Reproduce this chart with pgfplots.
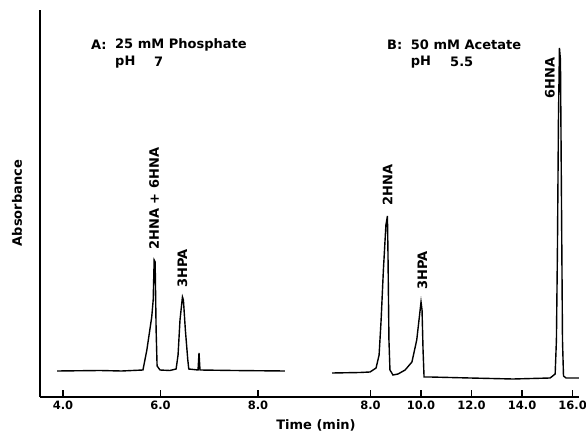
\documentclass[border=0pt]{standalone}
\usepackage{pgfplots}
\pgfplotsset{compat=1.18}
\usepackage{fontspec}
\setmainfont{DejaVu Sans}
\pgfplotstableread{
t h
3.877 26
4.76 26.5
5.20 26
5.64 27
5.72 47
5.82 80
5.85 97
5.87 137
5.89 135
5.91 67
5.93 31
5.99 27
6.19 26.5
6.32 28
6.36 42
6.40 77
6.45 100
6.47 97
6.51 67
6.56 37
6.58 28
6.77 27
6.79 44
6.81 27
7.50 26.5
8.55 26
}\dataA
\pgfplotstableread{
t h
6.476 24
7.58 24.5
7.98 25
8.22 29
8.34 42
8.42 77
8.51 127
8.61 172
8.67 181
8.69 147
8.73 57
8.77 27
8.89 22
9.09 23
9.37 27
9.64 35
9.83 57
9.92 77
10.00 95
10.04 87
10.08 47
10.12 20
10.36 20
11.94 19
13.64 18
15.11 19
15.31 23
15.36 57
15.40 147
15.44 277
15.48 349
15.52 337
15.56 197
15.60 57
15.64 21
15.74 19
16.25 19
}\dataB
\begin{document}
\begin{tikzpicture}[font=\bfseries]
\useasboundingbox (-40pt,-39pt) rectangle (546pt,397pt);
\pgfplotsset{
  common/.style={
    width=539pt, height=387pt, scale only axis,
    ymin=0, ymax=387, ytick=\empty,
    axis x line*=bottom,
    tick align=inside, major tick length=7pt,
    every tick/.style={black, line width=1.3pt},
    axis line style={line width=1.7pt},
    tick label style={font=\bfseries\fontsize{11.5}{13}\selectfont},
    /pgf/number format/assume math mode=true,
    clip=false,
  }
}
\begin{axis}[common,
  axis y line*=left,
  xmin=3.528, xmax=14.585,
  xtick={4,6,8}, xticklabels={4.0,6.0,8.0},
]
\addplot[black, line width=1.4pt] table[x=t,y=h] {\dataA};
\node[rotate=90, anchor=west, font=\bfseries\fontsize{13}{15}\selectfont] at (axis cs:5.87,144) {2HNA + 6HNA};
\node[rotate=90, anchor=west, font=\bfseries\fontsize{13}{15}\selectfont] at (axis cs:6.45,106) {3HPA};
\end{axis}
\begin{axis}[common,
  axis y line=none,
  xmin=-5.084, xmax=16.254,
  xtick={8,10,12,14,16}, xticklabels={8.0,10.0,12.0,14.0,16.0},
]
\addplot[black, line width=1.4pt] table[x=t,y=h] {\dataB};
\node[rotate=90, anchor=west, font=\bfseries\fontsize{13}{15}\selectfont] at (axis cs:8.67,188) {2HNA};
\node[rotate=90, anchor=west, font=\bfseries\fontsize{13}{15}\selectfont] at (axis cs:10.05,104) {3HPA};
\node[rotate=90, anchor=west, font=\bfseries\fontsize{13}{15}\selectfont] at (axis cs:15.10,295) {6HNA};
\end{axis}
\begin{scope}[every node/.style={font=\bfseries\fontsize{13}{15}\selectfont, inner sep=0pt}]
\node[anchor=west] at (51pt,352pt) {A:};
\node[anchor=west] at (75pt,352pt) {25 mM Phosphate};
\node[anchor=west] at (75pt,335pt) {pH};
\node[anchor=west] at (114pt,335pt) {7};
\node[anchor=west] at (347pt,352pt) {B:};
\node[anchor=west] at (370.7pt,352pt) {50 mM Acetate};
\node[anchor=west] at (370.7pt,335pt) {pH};
\node[anchor=west] at (410pt,335pt) {5.5};
\node[rotate=90] at (-23pt,194pt) {Absorbance};
\node at (276pt,-28pt) {Time (min)};
\end{scope}
\end{tikzpicture}
\end{document}
